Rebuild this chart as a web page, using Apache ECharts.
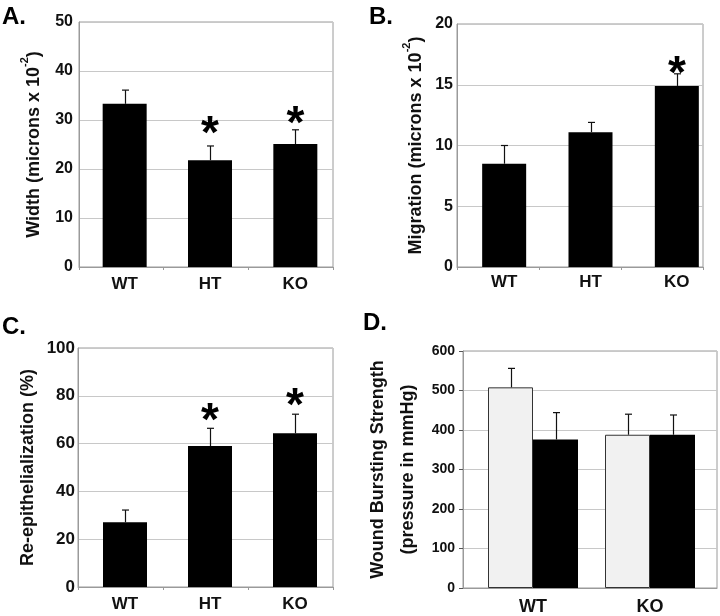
<!DOCTYPE html>
<html>
<head>
<meta charset="utf-8">
<script src="https://cdn.jsdelivr.net/npm/echarts@6/dist/echarts.min.js"></script>
<style>html,body{margin:0;padding:0;background:#fff}#c{width:720px;height:616px}</style>
</head>
<body>
<div id="c"></div>
<script>
// ---- data ----
const catsABC = ['WT', 'HT', 'KO'];
const catsD = ['WT', 'KO'];

const widthMean = [33.3, 21.8, 25.1];
const widthErr = [2.8, 2.9, 2.9];
const widthStar = [null, 29.0, 31.0];
const widthTicks = [0, 50, 10];

const migrMean = [8.5, 11.1, 14.9];
const migrErr = [1.5, 0.8, 1.0];
const migrStar = [null, null, 16.6];
const migrTicks = [0, 20, 5];

const reepiMean = [27.1, 59.0, 64.3];
const reepiErr = [5.1, 7.4, 8.0];
const reepiStar = [null, 73.2, 79.5];
const reepiTicks = [0, 100, 20];

const burstLight = [508, 388];
const burstLightErr = [48, 52];
const burstDark = [376, 388];
const burstDarkErr = [68, 50];
const burstTicks = [0, 600, 100];

// ---- styles ----
const FONT = '"Liberation Sans", Arial, sans-serif';
const GRID_LINE = '#c8c8c8';
const FRAME = '#9a9a9a';

const panels = [
  {frame: {left: 79, top: 22, width: 254, height: 245}, bars: {left: 82, top: 22, width: 256, height: 245},
   ticks: widthTicks, cats: catsABC, name: 'Width (microns x 10{sup|-2})', nameGap: 30,
   tickFont: 16, catFont: 17, catMargin: 9, labelMargin: 6, tickLen: 3, barWidth: 44,
   series: [{vals: widthMean, errs: widthErr, color: '#000', off: 0}], stars: widthStar},
  {frame: {left: 457, top: 24, width: 246, height: 243}, bars: {left: 461, top: 24, width: 259.5, height: 243},
   ticks: migrTicks, cats: catsABC, name: 'Migration (microns x 10{sup|-2})', nameGap: 25,
   tickFont: 16, catFont: 17, catMargin: 7, labelMargin: 4, tickLen: 3, barWidth: 44,
   series: [{vals: migrMean, errs: migrErr, color: '#000', off: 0}], stars: migrStar},
  {frame: {left: 78, top: 348, width: 255, height: 239}, bars: {left: 82.5, top: 348, width: 255, height: 239},
   ticks: reepiTicks, cats: catsABC, name: 'Re-epithelialization (%)', nameGap: 28,
   tickFont: 17, catFont: 17, catMargin: 9, labelMargin: 3, tickLen: 3, barWidth: 44,
   series: [{vals: reepiMean, errs: reepiErr, color: '#000', off: 0}], stars: reepiStar},
  {frame: {left: 463, top: 351, width: 254, height: 237}, bars: {left: 474.5, top: 351, width: 234, height: 237},
   ticks: burstTicks, cats: catsD, name: 'Wound Bursting Strength\n(pressure in mmHg)', nameGap: 40,
   tickFont: 14, catFont: 18, catMargin: 10, labelMargin: 8, tickLen: 0, barWidth: 45, yTick: 4,
   series: [{vals: burstLight, errs: burstLightErr, color: '#f1f1f1', border: '#333', off: -22.5},
            {vals: burstDark, errs: burstDarkErr, color: '#000', off: 22.5}], stars: null}
];

const grid = [], xAxis = [], yAxis = [], series = [];

panels.forEach((p, k) => {
  const gFrame = grid.length;
  grid.push(Object.assign({show: true, borderColor: FRAME, borderWidth: 1, backgroundColor: 'transparent'}, p.frame));
  const gBars = grid.length;
  grid.push(Object.assign({show: false}, p.bars));

  // frame axes
  xAxis.push({type: 'category', gridIndex: gFrame, data: p.cats,
    axisLine: {show: true, lineStyle: {color: FRAME, width: 1}},
    axisTick: {show: p.tickLen > 0, length: p.tickLen, lineStyle: {color: FRAME}},
    axisLabel: {show: false}, splitLine: {show: false}});
  const fx = xAxis.length - 1;
  yAxis.push({type: 'value', gridIndex: gFrame, min: p.ticks[0], max: p.ticks[1], interval: p.ticks[2],
    axisLine: {show: true, lineStyle: {color: FRAME, width: 1}},
    axisTick: {show: !!p.yTick, length: p.yTick || 0, lineStyle: {color: '#555'}},
    splitLine: {show: true, lineStyle: {color: GRID_LINE, width: 1}},
    axisLabel: {color: '#111', fontWeight: 'bold', fontSize: p.tickFont, fontFamily: FONT, margin: p.labelMargin},
    name: p.name, nameLocation: 'middle', nameRotate: 90, nameGap: p.nameGap,
    nameTextStyle: {color: '#111', fontWeight: 'bold', fontSize: 18, fontFamily: FONT, lineHeight: 30,
      rich: {sup: {fontSize: 11, fontWeight: 'bold', fontFamily: FONT, color: '#111', verticalAlign: 'top', lineHeight: 12}}}});

  // bar axes
  xAxis.push({type: 'category', gridIndex: gBars, data: p.cats,
    axisLine: {show: false}, axisTick: {show: false}, splitLine: {show: false},
    axisLabel: {color: '#111', fontWeight: 'bold', fontSize: p.catFont, fontFamily: FONT, margin: p.catMargin}});
  const bx = xAxis.length - 1;
  yAxis.push({type: 'value', gridIndex: gBars, min: p.ticks[0], max: p.ticks[1], interval: p.ticks[2], show: false});
  const by = yAxis.length - 1;

  p.series.forEach(s => {
    series.push({type: 'bar', xAxisIndex: bx, yAxisIndex: by, data: s.vals, barWidth: p.barWidth,
      barGap: '0%', barCategoryGap: '23%',
      itemStyle: {color: s.color, borderColor: s.border || s.color, borderWidth: s.border ? 1 : 0},
      animation: false, silent: true});
  });
  p.series.forEach(s => {
    series.push({type: 'custom', xAxisIndex: bx, yAxisIndex: by, z: 5, animation: false, silent: true,
      data: s.vals.map((v, i) => [i, v, s.errs[i]]),
      renderItem: function (params, api) {
        const i = api.value(0), v = api.value(1), e = api.value(2);
        const b = api.coord([i, v]);
        const t = api.coord([i, v + e]);
        const x = Math.round(b[0] + s.off) + 0.5;
        return {type: 'group', children: [
          {type: 'line', shape: {x1: x, y1: b[1], x2: x, y2: t[1]}, style: {stroke: '#111', lineWidth: 1.2}},
          {type: 'line', shape: {x1: x - 3.5, y1: t[1], x2: x + 3.5, y2: t[1]}, style: {stroke: '#111', lineWidth: 1.2}}
        ]};
      }});
  });
  if (p.stars) {
    const starData = [];
    p.stars.forEach((s, i) => { if (s != null) starData.push([i, s]); });
    series.push({type: 'custom', xAxisIndex: bx, yAxisIndex: by, z: 6, animation: false, silent: true,
      data: starData,
      renderItem: function (params, api) {
        const c = api.coord([api.value(0), api.value(1)]);
        return {type: 'text', x: c[0], y: c[1] + 10,
          style: {text: '*', fontSize: 46, fontWeight: 'bold', fontFamily: FONT, fill: '#000', align: 'center', verticalAlign: 'middle'}};
      }});
  }
});

const letterStyle = {fontSize: 24, fontWeight: 'bold', fontFamily: FONT, fill: '#000', verticalAlign: 'middle'};
const graphic = [
  {type: 'text', left: 2, top: 5, style: Object.assign({text: 'A.'}, letterStyle)},
  {type: 'text', left: 369, top: 5, style: Object.assign({text: 'B.'}, letterStyle)},
  {type: 'text', left: 2, top: 315, style: Object.assign({text: 'C.'}, letterStyle)},
  {type: 'text', left: 363, top: 311, style: Object.assign({text: 'D.'}, letterStyle)}
];

const chart = echarts.init(document.getElementById('c'), null, {renderer: 'canvas'});
chart.setOption({backgroundColor: '#fff', animation: false, grid, xAxis, yAxis, series, graphic});
</script>
</body>
</html>
